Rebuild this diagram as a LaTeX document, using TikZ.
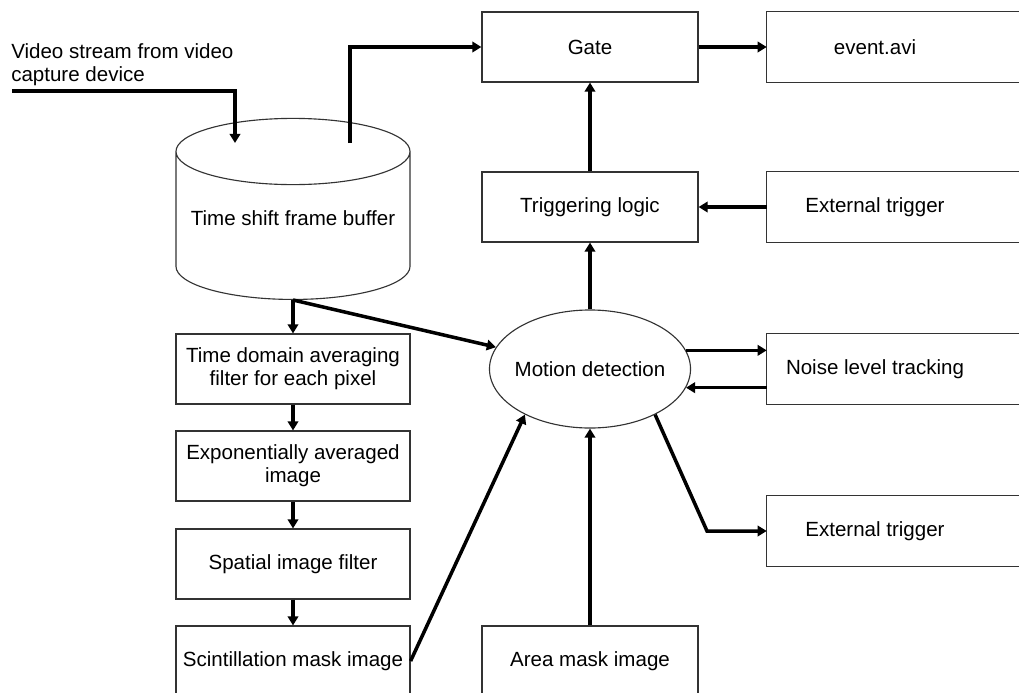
\documentclass[tikz,border=0pt]{standalone}
\usepackage{fontspec}
\setmainfont{Liberation Sans}
\usetikzlibrary{arrows.meta,shapes.geometric}

\begin{document}
\begin{tikzpicture}[
    x=0.025cm, y=-0.025cm,
    txt/.style={font=\fontsize{14.6}{16.4}\selectfont},
    box/.style={
        txt, rectangle, draw=black!80, line width=0.8pt,
        minimum width=5.85cm, minimum height=1.75cm,
        align=center, inner sep=2pt
    },
    midbox/.style={box, minimum width=5.4cm},
    rbox/.style={
        txt, rectangle, minimum width=5.4cm, minimum height=1.75cm,
        align=center
    },
    store/.style={
        txt, cylinder, shape border rotate=90, shape aspect=0.31,
        draw=black!80, line width=0.8pt,
        minimum width=5.85cm, minimum height=4.525cm
    },
    proc/.style={
        txt, ellipse, draw=black!80, line width=0.8pt,
        minimum width=5.025cm, minimum height=2.95cm, inner sep=0pt
    },
    arr/.style={-{Triangle[length=6.5pt,width=7.5pt]}, line width=2.5pt},
    outline/.style={draw=black!80, line width=0.8pt}
]
\clip (0,0) rectangle (1019,692);

% input side
\coordinate (src) at (12,91);
\coordinate (vin) at (235,143);
\coordinate (vout) at (350,143);
\node[txt, anchor=north west, align=left, inner sep=0pt] (srctxt) at (11,43) {Video stream from video\\capture device};
\node[store, anchor=south] (buf) at (293,300) {\raisebox{18pt}{Time shift frame buffer}};

% left column
\node[box] (tdf)   at (293,369) {Time domain averaging\\filter for each pixel};
\node[box] (expo)  at (293,466) {Exponentially averaged\\image};
\node[box] (spat)  at (293,564) {Spatial image filter};
\node[box] (scint) at (293,661) {Scintillation mask image};

% middle column
\node[midbox] (gate)   at (590,47)  {Gate};
\node[midbox] (trig)   at (590,207) {Triggering logic};
\node[proc]   (motion) at (590,369) {\makebox[0pt]{Motion detection}};
\node[midbox] (area)   at (590,661) {Area mask image};

% right column (boxes run off the right edge)
\node[rbox] (event) at (875,47)  {event.avi};
\node[rbox] (ext)   at (875,207) {External trigger};
\node[rbox] (noise) at (875,369) {Noise level tracking};
\node[rbox] (extb)  at (875,531) {External trigger};
\foreach \n in {event,ext,noise,extb}
    \draw[outline] (\n.north west) rectangle ([shift={(120,0)}]\n.south east);

\coordinate (bend) at (707,531);

\draw[arr] (src) -| (vin);
\draw[arr] (vout) |- (gate);
\draw[arr] (gate) -- (event);
\draw[arr] (trig) -- (gate);
\draw[arr] (ext) -- (trig);
\draw[arr] (motion) -- (trig);
\draw[arr] (buf.south) -- (tdf);
\draw[arr] (buf.south) -- (motion);
\draw[arr] (tdf) -- (expo);
\draw[arr] (expo) -- (spat);
\draw[arr] (spat) -- (scint);
\draw[arr] (scint.east) -- (motion.215);
\draw[arr] (area) -- (motion);
\draw[arr] (motion.11) -- (motion.11 -| noise.west);
\draw[arr] (motion.-11 -| noise.west) -- (motion.-11);
\draw[arr] (motion.-35) -- (bend) -- (extb);

\end{tikzpicture}
\end{document}
